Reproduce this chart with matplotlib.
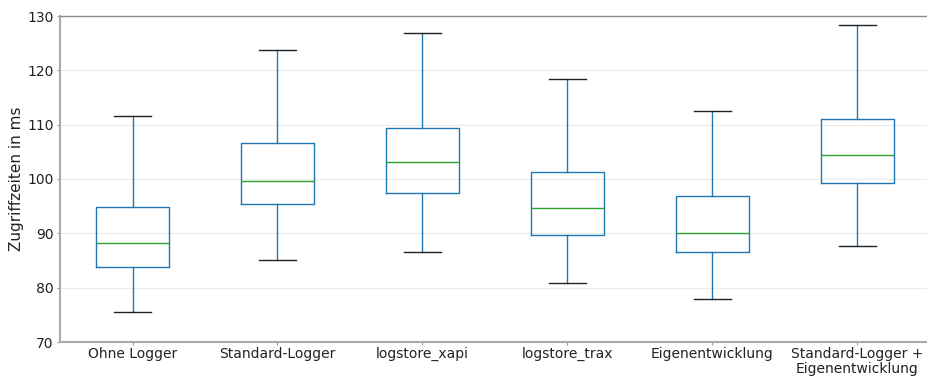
import matplotlib
matplotlib.use("Agg")
import matplotlib.pyplot as plt

# Zugriffszeiten je Logger-Variante (Whisker, Quartile, Median) in ms
labels = ["Ohne Logger", "Standard-Logger", "logstore_xapi", "logstore_trax",
          "Eigenentwicklung", "Standard-Logger +\nEigenentwicklung"]
whisker_low = [75.5, 85.1, 86.6, 80.8, 78.0, 87.6]
q1 = [83.8, 95.4, 97.5, 89.7, 86.6, 99.2]
median = [88.3, 99.7, 103.1, 94.6, 90.1, 104.5]
q3 = [94.9, 106.6, 109.3, 101.2, 96.9, 111.0]
whisker_high = [111.6, 123.7, 126.9, 118.4, 112.6, 128.4]

stats = []
for i, lab in enumerate(labels):
    stats.append({
        "label": lab,
        "whislo": whisker_low[i],
        "q1": q1[i],
        "med": median[i],
        "q3": q3[i],
        "whishi": whisker_high[i],
        "fliers": [],
    })

fig = plt.figure(figsize=(9.28, 3.76), dpi=100)
ax = fig.add_axes([60 / 928, 1 - 342 / 376, 870 / 928, 326 / 376])

ax.bxp(stats, widths=0.5, showfliers=False,
       boxprops=dict(color="#1f77b4", linewidth=1.0),
       whiskerprops=dict(color="#1f77b4", linewidth=1.0),
       medianprops=dict(color="#2ca02c", linewidth=1.0),
       capprops=dict(color="#222222", linewidth=1.0))

ax.set_ylim(70, 130)
ax.set_xlim(0.5, 6.5)
ax.set_yticks(range(70, 131, 10))
ax.set_ylabel("Zugriffzeiten in ms", fontsize=11, color="#222222", labelpad=2)
ax.yaxis.grid(True, color="#ebebeb", linewidth=0.8)
ax.set_axisbelow(True)
ax.tick_params(axis="both", labelsize=10, colors="#999999", labelcolor="#222222",
               length=2, pad=2.5)
ax.tick_params(axis="x", pad=1.5)
for t in ax.get_xticklabels():
    t.set_linespacing(1.1)

ax.spines["left"].set_color("#aaaaaa")
ax.spines["left"].set_linewidth(1.5)
ax.spines["bottom"].set_color("#aaaaaa")
ax.spines["bottom"].set_linewidth(1.5)
ax.spines["top"].set_color("#888888")
ax.spines["top"].set_linewidth(1.0)
ax.spines["right"].set_visible(False)

fig.savefig("out.png", dpi=100)
